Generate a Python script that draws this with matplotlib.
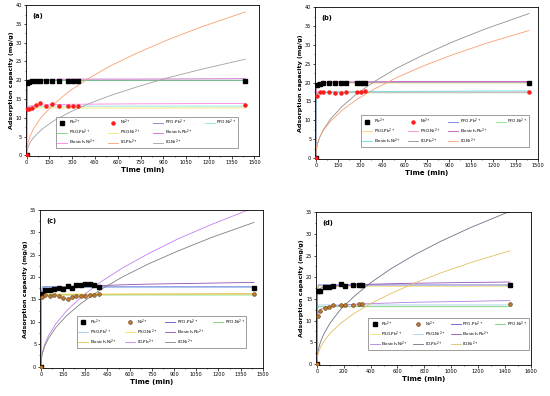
import matplotlib
matplotlib.use('Agg')
import matplotlib.pyplot as plt
from matplotlib.lines import Line2D
from matplotlib.ticker import MultipleLocator

# ---- sample times for the fitted curves ----
t_flat = [0, 2, 5, 10, 1440]
t_elo = [0, 2, 5, 10, 30, 100, 300, 700, 1440]
t_id = [0, 2, 10, 25, 50, 100, 175, 275, 400, 550, 725, 925, 1150, 1440]

# ---- panel (a) ----
a_t = [0, 5, 15, 35, 65, 90, 125, 170, 215, 275, 305, 340, 1440]
a_pb = [0, 19.3, 19.5, 19.7, 19.8, 19.9, 19.9, 19.9, 19.9, 19.9, 19.9, 19.9, 19.9]
a_ni = [0, 12.2, 12.4, 12.5, 13.4, 13.8, 13.1, 13.6, 13.1, 13.1, 13.1, 13.1, 13.3]
a_pfo_pb = [0, 12.0, 18.5, 19.9, 19.9]
a_pfo_ni = [0, 7.9, 12.2, 13.1, 13.1]
a_pso_pb = [0, 12.5, 18.7, 20.0, 20.0]
a_pso_ni = [0, 7.6, 11.8, 12.6, 12.6]
a_elo_pb = [0, 19.0, 19.6, 19.9, 20.1, 20.2, 20.3, 20.3, 20.4]
a_elo_ni = [0, 12.0, 12.6, 12.9, 13.2, 13.4, 13.6, 13.7, 13.8]
a_id_pb = [0.3, 1.7, 3.5, 5.3, 7.4, 10.3, 13.5, 16.9, 20.3, 23.8, 27.2, 30.7, 34.2, 38.2]
a_id_ni = [0.2, 1.1, 2.3, 3.6, 4.9, 6.9, 9.1, 11.3, 13.6, 15.9, 18.2, 20.6, 22.9, 25.6]

# ---- panel (b) ----
b_t = [0, 10, 25, 50, 90, 130, 170, 205, 275, 305, 335, 1440]
b_pb = [0, 19.4, 19.7, 19.8, 19.8, 19.8, 19.8, 19.8, 19.8, 19.8, 19.8, 20.0]
b_ni = [0, 16.5, 17.4, 17.6, 17.6, 17.3, 17.2, 17.5, 17.5, 17.6, 17.8, 17.4]
b_pfo_pb = [0, 12.3, 18.8, 20.0, 20.0]
b_pfo_ni = [0, 10.6, 16.3, 17.3, 17.3]
b_pso_pb = [0, 12.0, 18.6, 19.9, 19.9]
b_pso_ni = [0, 10.8, 16.5, 17.5, 17.5]
b_elo_pb = [0, 19.2, 19.7, 19.9, 20.0, 20.1, 20.2, 20.3, 20.3]
b_elo_ni = [0, 16.0, 16.7, 17.0, 17.3, 17.5, 17.6, 17.7, 17.8]
b_id_pb = [0.4, 1.8, 3.6, 5.4, 7.5, 10.4, 13.6, 17.0, 20.4, 23.9, 27.3, 30.8, 34.3, 38.3]
b_id_ni = [1.2, 2.4, 3.9, 5.5, 7.3, 9.8, 12.6, 15.5, 18.4, 21.4, 24.4, 27.4, 30.4, 33.8]

# ---- panel (c) ----
c_t = [0, 10, 30, 60, 90, 120, 150, 180, 210, 240, 270, 300, 330, 360, 390, 1440]
c_pb = [0, 16.3, 17.1, 17.2, 17.35, 17.65, 17.35, 17.9, 17.65, 18.2, 18.2, 18.4, 18.4, 18.2, 17.8, 17.6]
c_ni = [0, 15.6, 15.9, 15.8, 15.9, 15.8, 15.4, 15.0, 15.6, 15.7, 15.8, 15.8, 15.9, 16.0, 16.3, 16.3]
c_pfo_pb = [0, 11.0, 16.6, 17.8, 17.8]
c_pfo_ni = [0, 9.8, 14.9, 16.0, 16.0]
c_pso_pb = [0, 10.9, 16.5, 17.7, 17.7]
c_pso_ni = [0, 9.9, 15.1, 16.2, 16.2]
c_elo_pb = [0, 14.5, 15.8, 16.4, 17.0, 17.5, 18.0, 18.4, 18.8]
c_elo_ni = [0, 14.5, 15.2, 15.5, 15.8, 16.0, 16.1, 16.2, 16.3]
c_id_pb = [0.2, 1.5, 3.1, 4.9, 6.8, 9.5, 12.5, 15.6, 18.8, 22.0, 25.2, 28.5, 31.7, 35.5]
c_id_ni = [0.3, 1.5, 2.9, 4.5, 6.2, 8.7, 11.4, 14.2, 17.1, 20.0, 22.9, 25.8, 28.8, 32.2]

# ---- panel (d) ----
d_t = [0, 5, 20, 60, 90, 120, 180, 210, 270, 315, 340, 1440]
d_pb = [0, 16.8, 16.7, 17.7, 17.7, 17.9, 18.5, 18.0, 18.3, 18.3, 18.3, 18.2]
d_ni = [0, 11.1, 12.1, 12.8, 13.2, 13.5, 13.5, 13.6, 13.6, 13.8, 13.8, 13.8]
d_pfo_pb = [0, 11.2, 17.0, 18.2, 18.2]
d_pfo_ni = [0, 8.1, 12.4, 13.2, 13.2]
d_pso_pb = [0, 11.0, 16.7, 17.9, 17.9]
d_pso_ni = [0, 8.4, 12.8, 13.6, 13.6]
d_elo_pb = [0, 15.5, 16.5, 17.0, 17.5, 17.9, 18.3, 18.6, 18.9]
d_elo_ni = [0, 10.5, 11.5, 12.0, 12.7, 13.3, 13.8, 14.2, 14.6]
d_id_pb = [0.3, 1.6, 3.2, 4.9, 6.8, 9.5, 12.5, 15.5, 18.7, 21.9, 25.1, 28.3, 31.5, 35.2]
d_id_ni = [0.3, 1.3, 2.4, 3.7, 5.1, 7.1, 9.3, 11.6, 13.9, 16.2, 18.6, 21.0, 23.4, 26.1]

model_names = ['PFO-Pb$^{2+}$', 'PFO-Ni$^{2+}$', 'PSO-Pb$^{2+}$', 'PSO-Ni$^{2+}$',
               'Elovich-Pb$^{2+}$', 'Elovich-Ni$^{2+}$', 'ID-Pb$^{2+}$', 'ID-Ni$^{2+}$']

panels = [
    dict(tag='(a)', rect=[0.047, 0.606, 0.424, 0.381], xlim=(-5, 1530), ylim=(-0.2, 40),
         xstep=150, t=a_t, pb=a_pb, ni=a_ni, ni_face='#ff1a1a', ni_edge='#ff1a1a',
         curves=[a_pfo_pb, a_pfo_ni, a_pso_pb, a_pso_ni, a_elo_pb, a_elo_ni, a_id_pb, a_id_ni],
         colors=['#7878d8', '#7fe8d8', '#70d870', '#f0e070', '#d060d0', '#ff80e0', '#f8a070', '#a0a0a0'],
         leg=(0.13, 0.05, 0.78, 0.155)),
    dict(tag='(b)', rect=[0.573, 0.598, 0.405, 0.384], xlim=(-5, 1500), ylim=(-0.3, 40),
         xstep=150, t=b_t, pb=b_pb, ni=b_ni, ni_face='#ff1a1a', ni_edge='#ff1a1a',
         curves=[b_pfo_pb, b_pfo_ni, b_pso_pb, b_pso_ni, b_elo_pb, b_elo_ni, b_id_pb, b_id_ni],
         colors=['#6a7ae0', '#80e080', '#f0d870', '#ff88cc', '#c050c0', '#60e0e0', '#909090', '#f8a070'],
         leg=(0.205, 0.08, 0.755, 0.16)),
    dict(tag='(c)', rect=[0.073, 0.071, 0.405, 0.399], xlim=(-5, 1500), ylim=(-0.3, 35),
         xstep=150, t=c_t, pb=c_pb, ni=c_ni, ni_face='#c07830', ni_edge='#5a3a10',
         curves=[c_pfo_pb, c_pfo_ni, c_pso_pb, c_pso_ni, c_elo_pb, c_elo_ni, c_id_pb, c_id_ni],
         colors=['#5050c8', '#70d070', '#a0c8f0', '#f0e060', '#9050b0', '#e8c050', '#c080f0', '#808080'],
         leg=(0.166, 0.127, 0.76, 0.14)),
    dict(tag='(d)', rect=[0.575, 0.078, 0.391, 0.386], xlim=(-5, 1600), ylim=(-0.3, 35),
         xstep=200, t=d_t, pb=d_pb, ni=d_ni, ni_face='#c07830', ni_edge='#5a3a10',
         curves=[d_pfo_pb, d_pfo_ni, d_pso_pb, d_pso_ni, d_elo_pb, d_elo_ni, d_id_pb, d_id_ni],
         colors=['#5858d0', '#70d070', '#f0e070', '#a8d0f0', '#9050b0', '#b080e0', '#707088', '#e0c060'],
         leg=(0.242, 0.10, 0.745, 0.155)),
]

curve_times = [t_flat, t_flat, t_flat, t_flat, t_elo, t_elo, t_id, t_id]

fig = plt.figure(figsize=(5.5, 3.96), dpi=100)

for p in panels:
    ax = fig.add_axes(p['rect'])
    handles = {}
    for name, tt, yy, col in zip(model_names, curve_times, p['curves'], p['colors']):
        h, = ax.plot(tt, yy, color=col, lw=0.6, label=name, zorder=2)
        handles[name] = h
    hp, = ax.plot(p['t'], p['pb'], 's', color='black', ms=2.3, lw=0, label='Pb$^{2+}$', zorder=4)
    hn, = ax.plot(p['t'], p['ni'], 'o', mfc=p['ni_face'], mec=p['ni_edge'], mew=0.4, ms=2.7, lw=0,
                  label='Ni$^{2+}$', zorder=5)

    ax.set_xlim(*p['xlim'])
    ax.set_ylim(*p['ylim'])
    ax.xaxis.set_major_locator(MultipleLocator(p['xstep']))
    ax.xaxis.set_minor_locator(MultipleLocator(p['xstep'] / 2))
    ax.yaxis.set_major_locator(MultipleLocator(5))
    ax.yaxis.set_minor_locator(MultipleLocator(2.5))
    ax.tick_params(which='major', labelsize=3.6, length=1.8, width=0.5, pad=1)
    ax.tick_params(which='minor', length=1.0, width=0.4)
    for s in ax.spines.values():
        s.set_linewidth(0.6)
    ax.set_xlabel('Time (min)', fontsize=5, fontweight='bold', labelpad=1.5)
    ax.set_ylabel('Adsorption capacity (mg/g)', fontsize=4.6, fontweight='bold', labelpad=1.5)
    ax.text(0.03, 0.95, p['tag'], transform=ax.transAxes, fontsize=4.8, fontweight='bold',
            ha='left', va='top')

    # Origin-style legend: 4 + 3 + 3 entries, filled column by column
    blank = Line2D([], [], linestyle='none')
    order = [hp, handles[model_names[2]], handles[model_names[5]],
             hn, handles[model_names[3]], handles[model_names[6]],
             handles[model_names[0]], handles[model_names[4]], handles[model_names[7]],
             handles[model_names[1]], blank, blank]
    labels = [h.get_label() if h is not blank else '' for h in order]
    leg = ax.legend(order, labels, ncol=4, loc='lower left', bbox_to_anchor=p['leg'],
                    mode='expand', fontsize=3.0, frameon=True, fancybox=False,
                    edgecolor='#555555', handlelength=2.4, handletextpad=0.4,
                    columnspacing=0.8, labelspacing=0.15, borderpad=0.3, borderaxespad=0)
    leg.get_frame().set_linewidth(0.5)

fig.savefig('out.png', dpi=100)
